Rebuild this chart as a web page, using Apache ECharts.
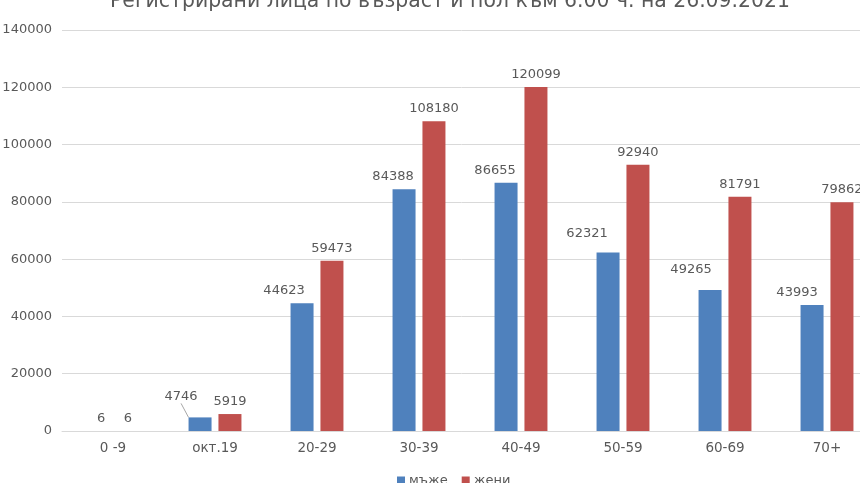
<!DOCTYPE html>
<html>
<head>
<meta charset="utf-8">
<script src="https://cdn.jsdelivr.net/npm/echarts@6/dist/echarts.min.js"></script>
<style>html,body{margin:0;padding:0;background:#fff}#c{width:860px;height:483px}</style>
</head>
<body>
<div id="c"></div>
<script>
var titleText = 'Регистрирани лица по възраст и пол към 6.00 ч. на 26.09.2021';
var categories = ['0 -9', 'окт.19', '20-29', '30-39', '40-49', '50-59', '60-69', '70+'];
var seriesNames = ['мъже', 'жени'];
var men = [6, 4746, 44623, 84388, 86655, 62321, 49265, 43993];
var women = [6, 5919, 59473, 108180, 120099, 92940, 81791, 79862];
var yTicks = [0, 20000, 40000, 60000, 80000, 100000, 120000, 140000];

// label nudges for the men series (as in the reference)
var menLabelDx = [3, -19, -18, -11, -11, -21, -19, -15];
var menLabelDy = [0, -8, 0, 0, 0, -6, -8, 0];

var FONT = 'DejaVu Sans';
var TXT = '#595959';

var chart = echarts.init(document.getElementById('c'), null, {renderer: 'canvas'});
chart.setOption({
  animation: false,
  textStyle: {fontFamily: FONT},
  title: {
    text: titleText,
    left: 445,
    textAlign: 'center',
    top: -13,
    textStyle: {fontFamily: FONT, fontSize: 20.4, fontWeight: 'normal', color: TXT}
  },
  legend: {
    data: seriesNames,
    left: 392,
    top: 469,
    itemWidth: 8,
    itemHeight: 8,
    itemGap: 14,
    icon: 'rect',
    textStyle: {fontFamily: FONT, fontSize: 13, color: TXT, padding: [0, 0, 0, -1]}
  },
  grid: {left: 62, top: 30, width: 816, height: 401, containLabel: false, outerBoundsMode: 'none'},
  xAxis: {
    type: 'category',
    data: categories,
    axisLine: {lineStyle: {color: '#d9d9d9', width: 1}},
    axisTick: {show: false},
    axisLabel: {fontFamily: FONT, fontSize: 13.5, color: TXT, margin: 10}
  },
  yAxis: {
    type: 'value',
    min: yTicks[0],
    max: yTicks[yTicks.length - 1],
    interval: yTicks[1] - yTicks[0],
    axisLine: {show: false},
    axisTick: {show: false},
    splitLine: {lineStyle: {color: '#d9d9d9', width: 1}},
    axisLabel: {fontFamily: FONT, fontSize: 13, color: TXT, margin: 10, formatter: function (v) { return String(v); }}
  },
  series: [
    {
      name: seriesNames[0],
      type: 'bar',
      barWidth: 23,
      barGap: '30%',
      itemStyle: {color: '#4f81bd'},
      data: men.map(function (v, i) {
        return i === 1 ? {value: v, labelLine: {show: true, lineStyle: {color: '#a6a6a6', width: 1}}} : v;
      }),
      label: {show: true, position: 'top', distance: 6, fontFamily: FONT, fontSize: 13, color: TXT},
      labelLine: {show: false},
      labelLayout: function (p) {
        return {dx: menLabelDx[p.dataIndex], dy: menLabelDy[p.dataIndex]};
      }
    },
    {
      name: seriesNames[1],
      type: 'bar',
      barWidth: 23,
      barGap: '30%',
      itemStyle: {color: '#c0504d'},
      data: women,
      label: {show: true, position: 'top', distance: 6, fontFamily: FONT, fontSize: 13, color: TXT}
    }
  ]
});
</script>
</body>
</html>
